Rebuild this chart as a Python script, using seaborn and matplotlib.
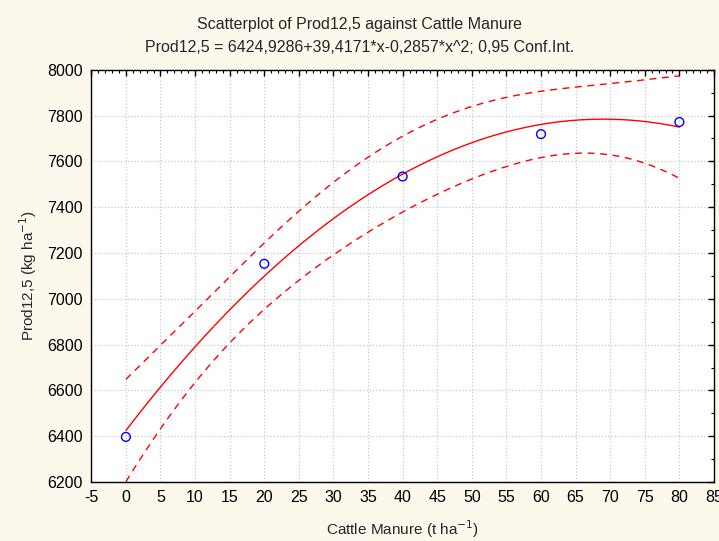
import numpy as np
import pandas as pd
import matplotlib
matplotlib.use("Agg")
import matplotlib.pyplot as plt
from matplotlib.ticker import MultipleLocator
import seaborn as sns

manure = [0, 20, 40, 60, 80]
prod = [6397, 7153, 7534, 7719, 7772]

# fitted equation from the title
coef = [6424.9286, 39.4171, -0.2857]
t_crit = 4.303  # t(0.975, df=2)

x_ticks = list(range(-5, 90, 5))
y_ticks = list(range(6200, 8200, 200))

# quadratic fit + 95% confidence band for the mean
X = np.column_stack([np.ones(len(manure)), manure, np.square(manure)])
y = np.array(prod, dtype=float)
resid = y - X @ np.array(coef)
s2 = resid @ resid / (len(y) - 3)
XtX_inv = np.linalg.inv(X.T @ X)

xg = np.linspace(0, 80, 200)
Xg = np.column_stack([np.ones_like(xg), xg, xg ** 2])
fit = Xg @ np.array(coef)
se = np.sqrt(s2 * np.einsum("ij,jk,ik->i", Xg, XtX_inv, Xg))
curves = pd.DataFrame({"x": xg, "fit": fit,
                       "lo": fit - t_crit * se, "hi": fit + t_crit * se})
pts = pd.DataFrame({"x": manure, "y": prod})

sns.set_style("white")
plt.rcParams["font.family"] = ["Liberation Sans", "DejaVu Sans"]
plt.rcParams["axes.unicode_minus"] = False

fig = plt.figure(figsize=(7.19, 5.41), dpi=100, facecolor="#fdf8ec")
ax = fig.add_axes([0.127, 0.109, 0.866, 0.762])
ax.set_facecolor("white")

sns.lineplot(data=curves, x="x", y="fit", color="red", lw=1, ax=ax)
sns.lineplot(data=curves, x="x", y="lo", color="red", lw=1, ax=ax, linestyle=(0, (5, 4)))
sns.lineplot(data=curves, x="x", y="hi", color="red", lw=1, ax=ax, linestyle=(0, (5, 4)))
sns.scatterplot(data=pts, x="x", y="y", ax=ax, s=40, facecolor="none",
                edgecolor="blue", linewidth=1, zorder=5)

ax.set_xlim(-5, 85)
ax.set_ylim(6200, 8000)
ax.set_xticks(x_ticks)
ax.set_yticks(y_ticks)
ax.xaxis.set_minor_locator(MultipleLocator(1))
ax.yaxis.set_minor_locator(MultipleLocator(100))
ax.tick_params(which="both", direction="in", top=True, right=True, labelsize=11.5, colors="black")
ax.tick_params(which="major", length=4, width=1, pad=6)
ax.tick_params(which="minor", length=2, width=0.8)
ax.grid(True, which="major", color="#c8c8c8", linestyle=":", linewidth=0.9)
for sp in ax.spines.values():
    sp.set_color("black")
    sp.set_linewidth(1)

ax.set_xlabel("Cattle Manure (t ha$^{-1}$)", fontsize=11, labelpad=9)
ax.set_ylabel("Prod12,5 (kg ha$^{-1}$)", fontsize=11, labelpad=6)

fig.text(0.5, 0.955, "Scatterplot of Prod12,5 against Cattle Manure",
         ha="center", va="center", fontsize=11.5)
fig.text(0.5, 0.913, "Prod12,5 = 6424,9286+39,4171*x-0,2857*x^2; 0,95 Conf.Int.",
         ha="center", va="center", fontsize=11.5)

fig.savefig("out.png", dpi=100, facecolor=fig.get_facecolor())
